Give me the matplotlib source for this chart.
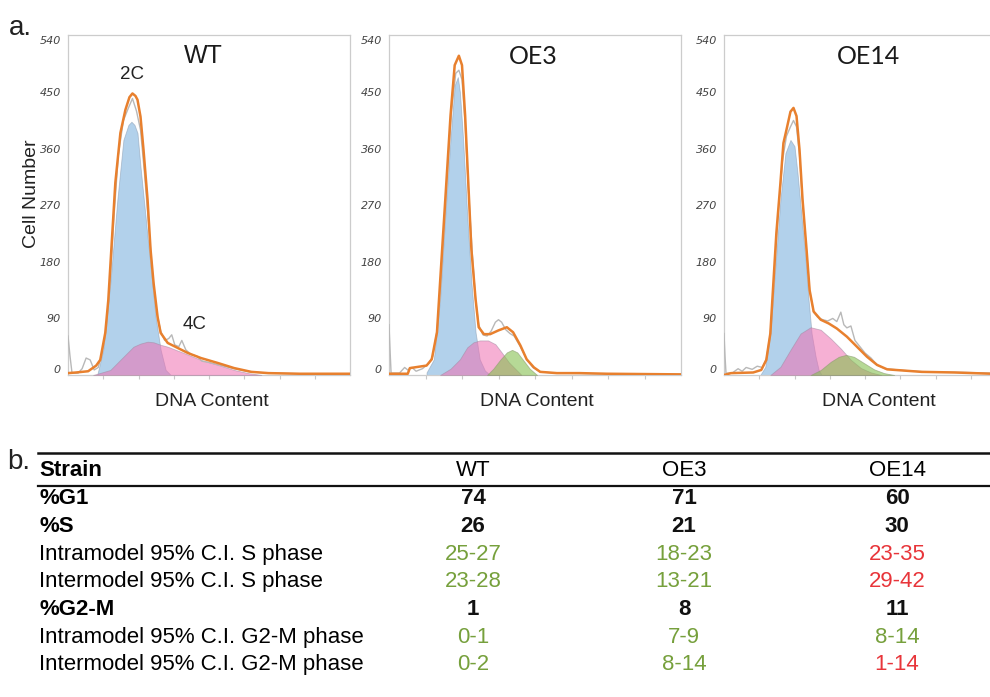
import matplotlib
matplotlib.use("Agg")
import matplotlib.pyplot as plt

# ---- histogram data (x = DNA channel, y = cell number) ----
# WT
wt_g1_x = [29, 35, 42, 49, 55, 60, 63, 66, 69, 72, 77, 82, 87, 92, 97, 102]
wt_g1_y = [0, 40, 146, 279, 374, 398, 403, 398, 385, 331, 252, 172, 92, 40, 8, 0]
wt_s_x = [25, 42, 55, 65, 72, 79, 85, 92, 99, 115, 132, 149, 165, 179, 192]
wt_s_y = [0, 8, 29, 45, 50, 53, 52, 48, 45, 35, 24, 16, 8, 3, 0]
wt_fit_x = [0, 8, 20, 28, 32, 37, 40, 44, 47, 52, 57, 61, 64, 67, 69, 72, 75, 79,
            82, 85, 89, 92, 99, 109, 119, 132, 149, 165, 182, 199, 230, 282]
wt_fit_y = [3, 4, 6, 15, 24, 67, 119, 226, 306, 385, 422, 442, 448, 444, 438, 411,
            358, 279, 199, 146, 92, 67, 51, 43, 35, 27, 19, 11, 5, 3, 2, 2]
wt_raw_x = [0, 2, 4, 10, 14, 18, 22, 26, 30, 34, 38, 42, 46, 50, 55, 60, 64, 68,
            72, 76, 80, 84, 88, 92, 96, 100, 103, 106, 110, 113, 117, 122, 128,
            133, 140, 150, 165, 180, 200, 230, 282]
wt_raw_y = [62, 30, 3, 3, 10, 27, 24, 8, 12, 35, 75, 150, 260, 350, 405, 425, 440,
            420, 390, 320, 240, 160, 100, 70, 55, 58, 64, 48, 45, 55, 40, 33, 30,
            22, 20, 16, 10, 5, 3, 2, 1]

# OE3
oe3_g1_x = [36, 43, 49, 54, 59, 63, 66, 68, 71, 75, 79, 83, 87, 92, 97]
oe3_g1_y = [4, 25, 121, 254, 376, 461, 474, 450, 376, 254, 148, 68, 25, 7, 0]
oe3_s_x = [49, 59, 68, 75, 81, 87, 95, 102, 108, 115, 121, 127]
oe3_s_y = [0, 10, 25, 44, 52, 55, 55, 49, 36, 20, 10, 0]
oe3_g2m_x = [94, 100, 107, 113, 118, 123, 129, 135, 142]
oe3_g2m_y = [0, 10, 25, 36, 40, 36, 23, 10, 0]
oe3_fit_x = [0, 18, 20, 36, 41, 46, 49, 54, 59, 63, 67, 70, 73, 76, 79, 83, 86,
             91, 97, 105, 113, 119, 126, 132, 139, 145, 161, 183, 209, 280]
oe3_fit_y = [2, 2, 11, 15, 25, 68, 148, 280, 413, 493, 508, 493, 413, 307, 200,
             121, 76, 65, 65, 71, 76, 68, 47, 25, 12, 5, 3, 3, 2, 1]
oe3_raw_x = [0, 1, 2, 10, 15, 18, 22, 26, 32, 38, 42, 46, 50, 55, 60, 64, 67, 70,
             73, 76, 80, 83, 86, 90, 94, 98, 102, 105, 108, 112, 116, 120, 126,
             132, 138, 145, 160, 200, 280]
oe3_raw_y = [80, 40, 3, 3, 12, 8, 12, 6, 10, 18, 30, 70, 150, 290, 420, 480, 485,
             470, 400, 300, 190, 120, 80, 64, 62, 70, 84, 88, 84, 72, 66, 62, 45,
             25, 12, 5, 3, 2, 1]

# OE14
oe14_g1_x = [36, 41, 46, 51, 56, 61, 66, 70, 73, 77, 81, 84, 87, 91, 94, 97]
oe14_g1_y = [0, 13, 66, 173, 279, 353, 374, 364, 321, 252, 183, 119, 66, 29, 8, 0]
oe14_s_x = [46, 56, 66, 76, 86, 96, 106, 116, 126, 136, 146, 156]
oe14_s_y = [0, 13, 40, 66, 76, 72, 58, 42, 24, 11, 4, 0]
oe14_g2m_x = [86, 96, 106, 114, 121, 129, 139, 149, 159, 169]
oe14_g2m_y = [0, 8, 21, 29, 32, 29, 19, 9, 3, 0]
oe14_fit_x = [0, 7, 29, 37, 42, 46, 49, 52, 56, 59, 62, 66, 69, 72, 75, 78, 82,
              85, 89, 96, 104, 112, 122, 132, 142, 152, 162, 179, 196, 229, 266, 290]
oe14_fit_y = [0, 3, 4, 8, 24, 66, 146, 226, 305, 369, 390, 419, 425, 412, 358,
              279, 199, 135, 101, 88, 82, 74, 61, 45, 29, 16, 9, 7, 5, 4, 2, 2]
oe14_raw_x = [0, 1, 2, 8, 14, 18, 22, 28, 33, 38, 42, 46, 50, 54, 58, 62, 66, 69,
              72, 75, 78, 82, 85, 89, 93, 98, 103, 108, 112, 116, 119, 122, 126,
              130, 135, 140, 146, 152, 160, 180, 200, 240, 290]
oe14_raw_y = [66, 30, 3, 3, 10, 6, 12, 9, 14, 12, 25, 66, 160, 260, 340, 380, 395,
              405, 395, 350, 275, 195, 135, 100, 92, 88, 86, 90, 85, 100, 80, 75,
              78, 55, 45, 35, 27, 16, 10, 7, 5, 4, 2]

panel_titles = ["WT", "OE3", "OE14"]
y_ticks = [0, 90, 180, 270, 360, 450, 540]

# ---- table data ----
strains = ["WT", "OE3", "OE14"]
row_labels = ["%G1", "%S", "Intramodel 95% C.I. S phase",
              "Intermodel 95% C.I. S phase", "%G2-M",
              "Intramodel 95% C.I. G2-M phase", "Intermodel 95% C.I. G2-M phase"]
pct_g1 = [74, 71, 60]
pct_s = [26, 21, 30]
intra_s = ["25-27", "18-23", "23-35"]
inter_s = ["23-28", "13-21", "29-42"]
pct_g2m = [1, 8, 11]
intra_g2m = ["0-1", "7-9", "8-14"]
inter_g2m = ["0-2", "8-14", "1-14"]
# 1 = within range (green), 0 = outside (red)
intra_s_ok = [1, 1, 0]
inter_s_ok = [1, 1, 0]
intra_g2m_ok = [1, 1, 1]
inter_g2m_ok = [1, 1, 0]

C_G1 = "#74acdc"
C_S = "#f06fb2"
C_G2 = "#86c050"
C_FIT = "#e8802e"
C_RAW = "#b8b8b8"
C_GREEN = "#76a03c"
C_RED = "#e8353a"

W, H = 990, 697
fig = plt.figure(figsize=(W / 100, H / 100), dpi=100)
fig.patch.set_facecolor("white")

# axes boxes in pixels: left, top, width
boxes = [(68, 35, 282), (389, 35, 292), (724, 35, 282)]
AX_H = 340

panels = [
    (wt_g1_x, wt_g1_y, wt_s_x, wt_s_y, None, None, wt_fit_x, wt_fit_y, wt_raw_x, wt_raw_y),
    (oe3_g1_x, oe3_g1_y, oe3_s_x, oe3_s_y, oe3_g2m_x, oe3_g2m_y, oe3_fit_x, oe3_fit_y, oe3_raw_x, oe3_raw_y),
    (oe14_g1_x, oe14_g1_y, oe14_s_x, oe14_s_y, oe14_g2m_x, oe14_g2m_y, oe14_fit_x, oe14_fit_y, oe14_raw_x, oe14_raw_y),
]
title_fonts = ["Liberation Sans", "Lato", "Lato"]
title_x = [134, 138, 143]
label_x = [0.51, 0.507, 0.55]

axes = []
for i, (bx, by, bw) in enumerate(boxes):
    ax = fig.add_axes([bx / W, 1 - (by + AX_H) / H, bw / W, AX_H / H])
    g1x, g1y, sx, sy, gx, gy, fx, fy, rx, ry = panels[i]
    ax.fill_between(g1x, g1y, color=C_G1, alpha=0.55, lw=0.6, edgecolor="#8a9bb0", zorder=2)
    ax.fill_between(sx, sy, color=C_S, alpha=0.55, lw=0.6, edgecolor="#a08aa0", zorder=3)
    if gx is not None:
        ax.fill_between(gx, gy, color=C_G2, alpha=0.6, lw=0.6, edgecolor="#8a9a70", zorder=4)
    ax.plot(rx, ry, color=C_RAW, lw=1.0, zorder=5)
    ax.plot(fx, fy, color=C_FIT, lw=1.8, zorder=6)

    ax.set_xlim(0, 280)
    ax.set_ylim(0, 541)
    ax.set_yticks(y_ticks)
    ax.set_yticklabels([str(v) for v in y_ticks], fontsize=8, fontstyle="italic",
                       color="#444444")
    lbls = ax.get_yticklabels()
    lbls[0].set_va("bottom")
    lbls[-1].set_va("top")
    ax.tick_params(axis="y", length=0, pad=5)
    ax.set_xticks(range(35, 280, 35))
    ax.set_xticklabels([])
    ax.tick_params(axis="x", length=3, width=0.8, color="#c8c8c8", direction="out")
    for sp in ax.spines.values():
        sp.set_color("#cccccc")
        sp.set_linewidth(0.9)

    ax.text(title_x[i], 507, panel_titles[i], ha="center", va="center",
            fontsize=18, family=title_fonts[i], color="#1a1a1a")
    ax.text(label_x[i], -0.077, "DNA Content", transform=ax.transAxes,
            ha="center", va="center", fontsize=14, family="Liberation Sans",
            color="#222222")
    axes.append(ax)

axes[0].text(64, 478, "2C", ha="center", va="center", fontsize=13.5,
             family="Liberation Sans", color="#222222")
axes[0].text(126, 81, "4C", ha="center", va="center", fontsize=13.5,
             family="Liberation Sans", color="#222222")

# ---- overlay in pixel space for labels and the table ----
ov = fig.add_axes([0, 0, 1, 1], zorder=-1)
ov.set_xlim(0, W)
ov.set_ylim(H, 0)
ov.axis("off")

ov.text(32, 194, "Cell Number", rotation=90, ha="center", va="center",
        fontsize=14, family="Liberation Sans", color="#222222")
ov.text(9, 28, "a.", ha="left", va="center", fontsize=20, family="Liberation Sans",
        color="#222222")
ov.text(7, 462, "b.", ha="left", va="center", fontsize=20, family="Liberation Sans",
        color="#222222")

TF = "Liberation Sans"
TS = 16
col_x = [473, 684, 897]
row_y0 = 471
row_dy = 27.7
ov.plot([38, W], [453, 453], color="#111111", lw=1.8)
ov.plot([38, W], [486, 486], color="#111111", lw=1.6)

ov.text(39, row_y0, "Strain", ha="left", va="center", fontsize=TS,
        family=TF, fontweight="bold")
for j, s in enumerate(strains):
    ov.text(col_x[j], row_y0, s, ha="center", va="center", fontsize=TS, family=TF)

rows = [
    (pct_g1, None, True),
    (pct_s, None, True),
    (intra_s, intra_s_ok, False),
    (inter_s, inter_s_ok, False),
    (pct_g2m, None, True),
    (intra_g2m, intra_g2m_ok, False),
    (inter_g2m, inter_g2m_ok, False),
]
for r, (vals, ok, bold) in enumerate(rows):
    y = row_y0 + (r + 1) * row_dy
    ov.text(39, y, row_labels[r], ha="left", va="center", fontsize=TS, family=TF,
            fontweight="bold" if bold else "normal")
    for j, v in enumerate(vals):
        if ok is None:
            c = "#111111"
        else:
            c = C_GREEN if ok[j] else C_RED
        ov.text(col_x[j], y, str(v), ha="center", va="center", fontsize=TS,
                family=TF, color=c, fontweight="bold" if bold else "normal")

fig.savefig("out.png", dpi=100, facecolor="white")
